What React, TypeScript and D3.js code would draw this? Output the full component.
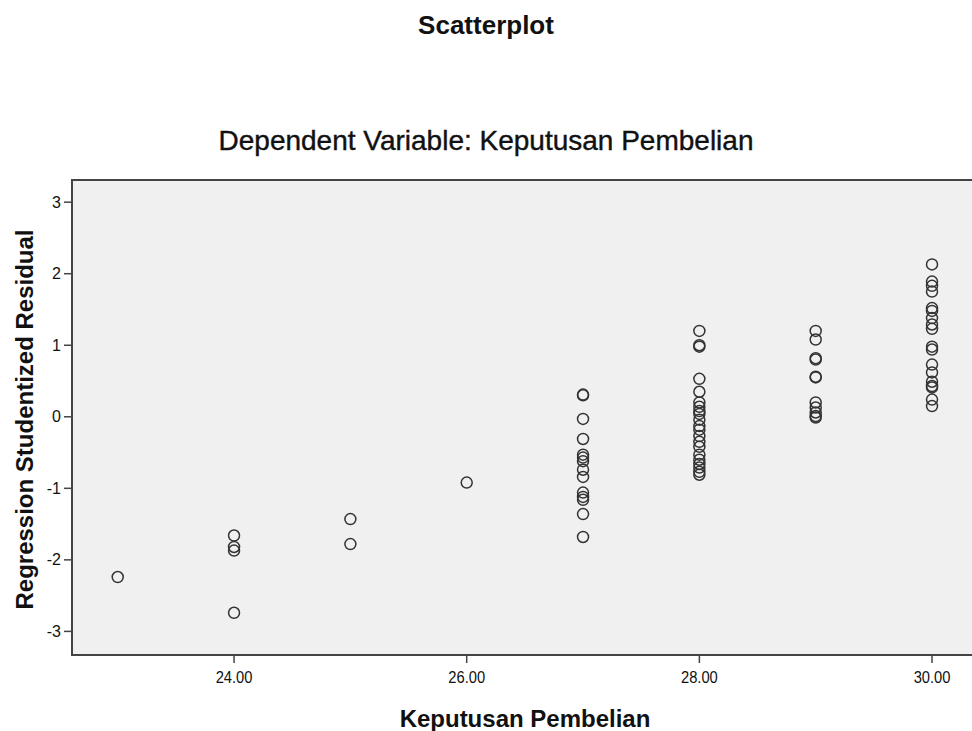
import React from 'react';
import * as d3 from 'd3';

// Keputusan Pembelian values (x) and the studentized residuals seen at each one
const xValues = [23, 24, 25, 26, 27, 28, 29, 30];
const residuals: number[][] = [
  [-2.24],
  [-1.66, -1.82, -1.87, -2.74],
  [-1.43, -1.78],
  [-0.92],
  [0.30, 0.31, -0.03, -0.31, -0.53, -0.57, -0.62, -0.74, -0.84, -1.06, -1.12, -1.16, -1.36, -1.68],
  [1.20, 1.00, 0.98, 0.53, 0.35, 0.20, 0.14, 0.08, 0.04, -0.04, -0.13, -0.18, -0.27, -0.35, -0.42, -0.53, -0.60, -0.66, -0.71, -0.77, -0.81],
  [1.20, 1.08, 0.82, 0.80, 0.56, 0.55, 0.20, 0.13, 0.06, 0.01, -0.01],
  [2.13, 1.89, 1.83, 1.75, 1.52, 1.48, 1.38, 1.29, 1.23, 0.98, 0.94, 0.73, 0.62, 0.49, 0.43, 0.41, 0.24, 0.15],
];
const xTicks = [24, 26, 28, 30];
const yTicks = [-3, -2, -1, 0, 1, 2, 3];

const title = 'Scatterplot';
const subtitle = 'Dependent Variable: Keputusan Pembelian';
const xTitle = 'Keputusan Pembelian';
const yTitle = 'Regression Studentized Residual';

export default function App() {
  const width = 972;
  const height = 731;
  const plot = { left: 72, right: 976, top: 180, bottom: 655 };

  const x = d3.scaleLinear().domain([22.607, 30.378]).range([plot.left, plot.right]);
  const y = d3.scaleLinear().domain([-3.33, 3.31]).range([plot.bottom, plot.top]);

  const points = xValues.flatMap((xv, i) => residuals[i].map(r => ({ x: xv, r })));
  const font = '"Liberation Sans", Arial, sans-serif';

  return (
    <svg
      width={width}
      height={height}
      style={{ position: 'absolute', left: 0, top: 0, background: '#fff' }}
      fontFamily={font}
    >
      <text x={486} y={34} textAnchor="middle" fontSize={26} fontWeight="bold" fill="#111">{title}</text>
      <text x={486} y={150} textAnchor="middle" fontSize={28} fill="#111" stroke="#111" strokeWidth={0.4}>{subtitle}</text>

      <rect
        x={plot.left}
        y={plot.top}
        width={plot.right - plot.left}
        height={plot.bottom - plot.top}
        fill="#f0f0f0"
        stroke="#444"
        strokeWidth={2}
      />

      {/* y axis */}
      {yTicks.map(t => (
        <g key={t} transform={`translate(${plot.left},${y(t)})`}>
          <line x1={-8} x2={0} stroke="#444" strokeWidth={1.5} />
          <text x={-11} dy="0.35em" textAnchor="end" fontSize={16} fill="#111">{t}</text>
        </g>
      ))}

      {/* x axis */}
      {xTicks.map(t => (
        <g key={t} transform={`translate(${x(t)},${plot.bottom})`}>
          <line y1={0} y2={8} stroke="#444" strokeWidth={1.5} />
          <text y={28} textAnchor="middle" fontSize={16} fill="#111" transform="scale(0.92,1)">{t.toFixed(2)}</text>
        </g>
      ))}

      {points.map((p, i) => (
        <circle key={i} cx={x(p.x)} cy={y(p.r)} r={5.5} fill="none" stroke="#333" strokeWidth={1.5} />
      ))}

      <text x={525} y={727} textAnchor="middle" fontSize={24} fontWeight="bold" fill="#111">{xTitle}</text>
      <text
        transform={`translate(33,${(plot.top + plot.bottom) / 2 + 2}) rotate(-90)`}
        textAnchor="middle"
        fontSize={24}
        fontWeight="bold"
        fill="#111"
      >{yTitle}</text>
    </svg>
  );
}
